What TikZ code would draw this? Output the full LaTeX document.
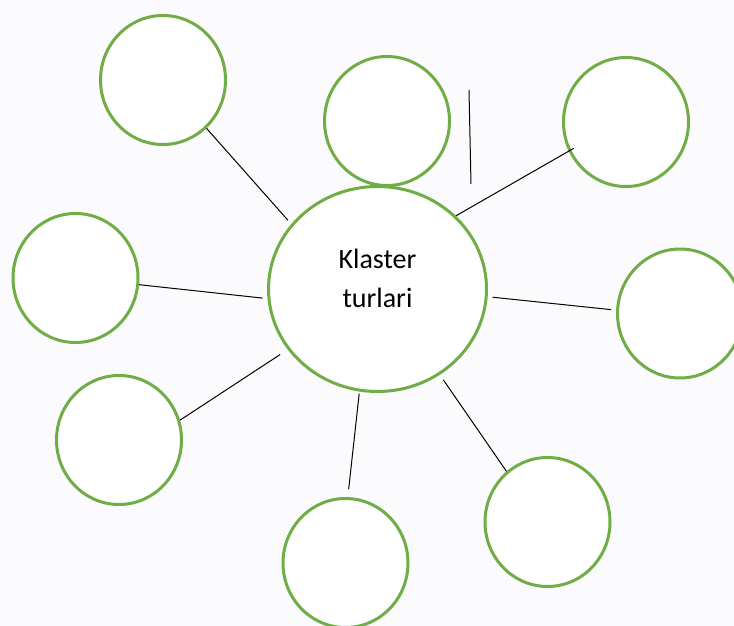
\documentclass[tikz,border=0pt]{standalone}
\usepackage{fontspec}
\setmainfont{Carlito}
\usetikzlibrary{shapes}

\definecolor{ringgreen}{RGB}{112,173,71}
\definecolor{paper}{RGB}{251,251,253}

\begin{document}
\begin{tikzpicture}[x=1pt,y=-1pt,every node/.style={ellipse,draw=ringgreen,line width=3pt,fill=white,inner sep=0pt},
				hub/.style={minimum width=218pt,minimum height=205pt,align=center,font=\fontsize{28}{39}\selectfont,text depth=21pt},
				leaf/.style={minimum width=125pt,minimum height=129pt},
				link/.style={black,line width=1pt}
				]
				\fill[paper] (0,0) rectangle (734,626);
				\useasboundingbox (0,0) rectangle (734,626);
				\node[hub](k) at (377.5,289){Klaster\\turlari};
				\node[leaf](c1) at (163,80){};
				\node[leaf](c2) at (387,121){};
				\node[leaf](c3) at (626,122){};
				\node[leaf](c4) at (75.5,278){};
				\node[leaf](c5) at (680,313.5){};
				\node[leaf](c6) at (119,440){};
				\node[leaf](c7) at (345.5,563){};
				\node[leaf](c8) at (547.5,522){};
				\coordinate (v1) at (469,90);
				\coordinate (v2) at (471,184);
				\draw[link,shorten <=5pt] (k.143.8) -- (c1.-48.7);
				\draw[link,shorten >=-6pt] (k.43.7) -- (c3.-153.9);
				\draw[link,shorten <=5pt] (k.185.5) -- (c4.-6.2);
				\draw[link,shorten <=5pt,shorten >=5pt] (k.-4.5) -- (c5.177.2);
				\draw[link,shorten <=9pt] (k.214.1) -- (c6.18.4);
				\draw[link,shorten <=2pt,shorten >=8pt] (k.-100) -- (c7.88);
				\draw[link,shorten <=6pt] (k.-54.3) -- (c8.129.3);
				\draw[link] (v1) -- (v2);
\end{tikzpicture}
\end{document}
